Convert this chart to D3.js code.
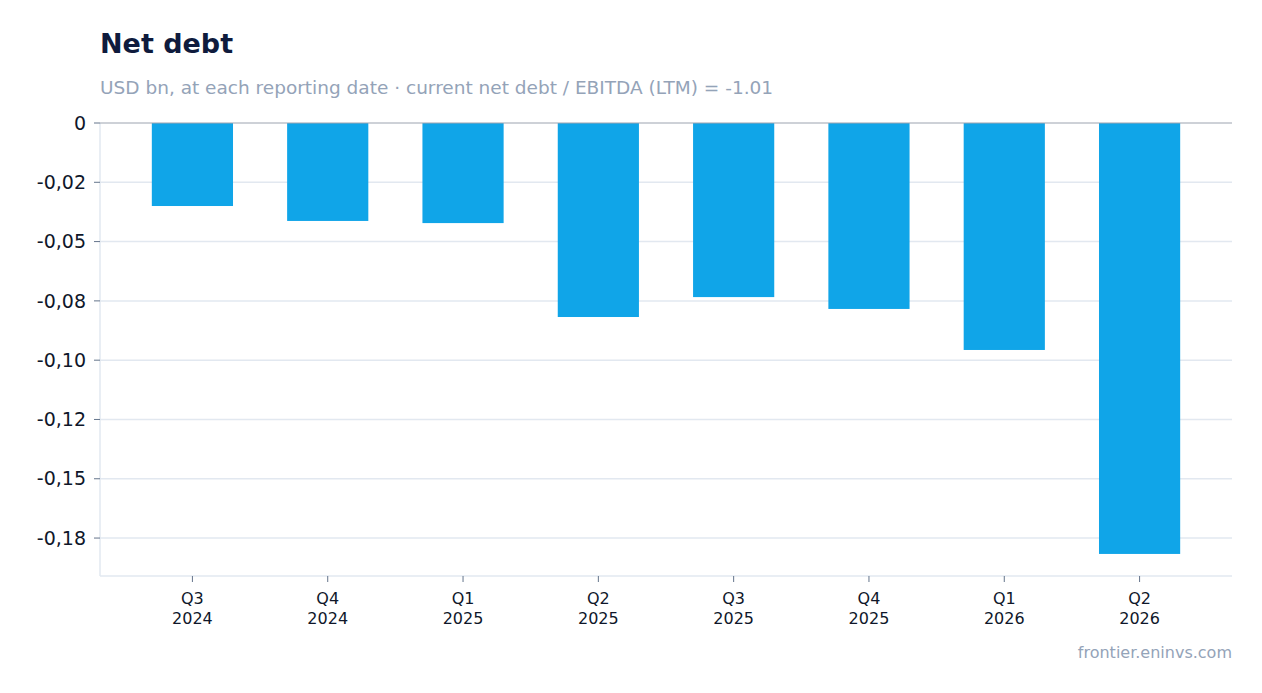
<!DOCTYPE html>
<html>
<head>
<meta charset="utf-8">
<script src="https://d3js.org/d3.v7.min.js"></script>
<style>
  body { margin: 0; background: #fff; font-family: "DejaVu Sans", sans-serif; }
</style>
</head>
<body>
<svg width="1262" height="693"></svg>
<script>
// data
const quarters = ["Q3|2024", "Q4|2024", "Q1|2025", "Q2|2025", "Q3|2025", "Q4|2025", "Q1|2026", "Q2|2026"];
const netDebt = [-0.035, -0.0413, -0.0422, -0.0818, -0.0734, -0.0784, -0.0957, -0.1817];
const tickValues = [0, -0.025, -0.05, -0.075, -0.1, -0.125, -0.15, -0.175];
const tickLabels = ["0", "-0,02", "-0,05", "-0,08", "-0,10", "-0,12", "-0,15", "-0,18"];

const svg = d3.select("svg");
const mLeft = 100, mRight = 1232, mTop = 123, mBottom = 576;

const x = d3.scaleBand().domain(quarters).range([mLeft, mRight])
  .paddingInner(0.4).paddingOuter(0.383);
const y = d3.scaleLinear().domain([0, -0.191]).range([mTop, mBottom]);

// title
svg.append("text").attr("x", 100).attr("y", 53)
  .style("font-size", "27px").style("font-weight", "bold").style("fill", "#0f1b3d")
  .text("Net debt");
svg.append("text").attr("x", 100).attr("y", 94)
  .style("font-size", "18.5px").style("fill", "#94a3b8")
  .text("USD bn, at each reporting date · current net debt / EBITDA (LTM) = -1.01");

// grid
svg.selectAll(".grid").data(tickValues.slice(1)).enter().append("line")
  .attr("x1", mLeft).attr("x2", mRight)
  .attr("y1", d => y(d)).attr("y2", d => y(d))
  .attr("stroke", "#e2e8f0").attr("stroke-width", 1.5);

// axes lines
svg.append("line").attr("x1", mLeft).attr("x2", mLeft).attr("y1", mTop).attr("y2", mBottom)
  .attr("stroke", "#e2e8f0").attr("stroke-width", 1.5);
svg.append("line").attr("x1", mLeft).attr("x2", mRight).attr("y1", mBottom).attr("y2", mBottom)
  .attr("stroke", "#e2e8f0").attr("stroke-width", 1.5);

// bars
svg.selectAll(".bar").data(netDebt).enter().append("rect")
  .attr("x", (d, i) => x(quarters[i]))
  .attr("width", x.bandwidth())
  .attr("y", y(0))
  .attr("height", d => y(d) - y(0))
  .attr("fill", "#10a5e8");

// zero line
svg.append("line").attr("x1", mLeft).attr("x2", mRight).attr("y1", y(0)).attr("y2", y(0))
  .attr("stroke", "#9ca3af").attr("stroke-width", 1);

// y ticks
tickValues.forEach((v, i) => {
  svg.append("line").attr("x1", mLeft - 6).attr("x2", mLeft).attr("y1", y(v)).attr("y2", y(v))
    .attr("stroke", "#64748b");
  svg.append("text").attr("x", mLeft - 14).attr("y", y(v)).attr("dy", "0.35em")
    .attr("text-anchor", "end").style("font-size", "19px").style("fill", "#0f172a")
    .text(tickLabels[i]);
});

// x ticks
quarters.forEach(q => {
  const cx = x(q) + x.bandwidth() / 2;
  svg.append("line").attr("x1", cx).attr("x2", cx).attr("y1", mBottom).attr("y2", mBottom + 6)
    .attr("stroke", "#64748b");
  const parts = q.split("|");
  const t = svg.append("text").attr("x", cx).attr("y", 604).attr("text-anchor", "middle")
    .style("font-size", "16px").style("fill", "#0f172a");
  t.append("tspan").attr("x", cx).text(parts[0]);
  t.append("tspan").attr("x", cx).attr("dy", 20).text(parts[1]);
});

// footer
svg.append("text").attr("x", 1232).attr("y", 658).attr("text-anchor", "end")
  .style("font-size", "16px").style("fill", "#94a3b8")
  .text("frontier.eninvs.com");
</script>
</body>
</html>
